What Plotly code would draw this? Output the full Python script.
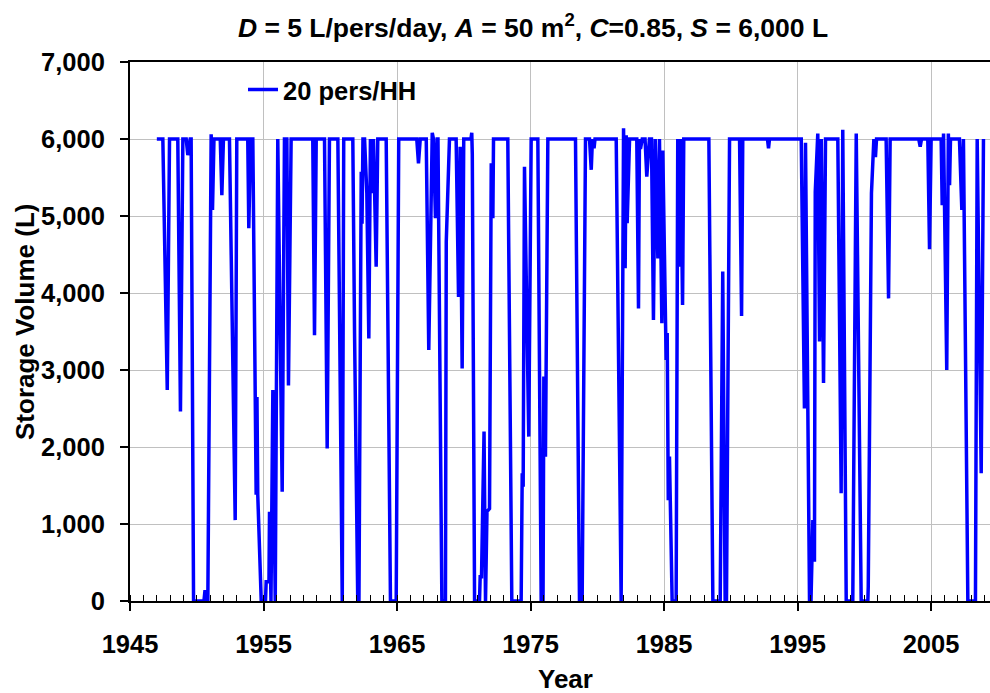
import plotly.graph_objects as go

# Storage volume time series (year, litres)
years = [
    1947.01, 1947.46, 1947.79, 1947.96, 1948.58, 1948.78, 1948.96, 1949.21, 1949.33, 1949.51,
    1949.58, 1949.76, 1950.54, 1950.62, 1950.69, 1950.83, 1951.08, 1951.18, 1951.29, 1951.76,
    1951.88, 1952.00, 1952.45, 1952.88, 1953.00, 1953.82, 1953.90, 1954.03, 1954.20, 1954.45,
    1954.51, 1954.57, 1954.83, 1955.15, 1955.20, 1955.41, 1955.45, 1955.56, 1955.70, 1955.88,
    1956.07, 1956.40, 1956.57, 1956.75, 1956.87, 1957.07, 1958.69, 1958.82, 1958.95, 1959.57,
    1959.77, 1959.94, 1960.57, 1960.84, 1960.90, 1961.01, 1961.69, 1961.82, 1962.06, 1962.15,
    1962.32, 1962.38, 1962.45, 1962.57, 1962.74, 1962.89, 1963.01, 1963.14, 1963.24, 1963.44,
    1963.56, 1964.19, 1964.51, 1964.94, 1965.13, 1966.48, 1966.61, 1966.74, 1967.19, 1967.38,
    1967.64, 1967.73, 1967.88, 1968.01, 1968.07, 1968.36, 1968.63, 1968.69, 1968.93, 1969.43,
    1969.61, 1969.73, 1969.88, 1970.00, 1970.54, 1970.60, 1970.64, 1970.81, 1971.18, 1971.23,
    1971.33, 1971.52, 1971.63, 1971.74, 1971.93, 1972.06, 1972.18, 1972.23, 1973.30, 1973.60,
    1974.30, 1974.38, 1974.45, 1974.55, 1974.87, 1975.05, 1975.55, 1975.80, 1975.94, 1976.00,
    1976.12, 1976.30, 1978.37, 1978.67, 1978.87, 1979.12, 1979.42, 1979.55, 1979.64, 1979.76,
    1979.83, 1981.42, 1981.79, 1981.97, 1982.09, 1982.17, 1982.24, 1982.42, 1982.96, 1983.09,
    1983.16, 1983.24, 1983.37, 1983.58, 1983.71, 1983.91, 1984.06, 1984.21, 1984.34, 1984.54,
    1984.66, 1984.84, 1984.91, 1985.16, 1985.24, 1985.32, 1985.41, 1985.61, 1985.91, 1986.03,
    1986.16, 1986.24, 1986.39, 1986.48, 1988.36, 1988.66, 1989.21, 1989.40, 1989.58, 1989.68,
    1989.91, 1990.66, 1990.81, 1990.90, 1992.75, 1992.83, 1992.90, 1995.28, 1995.52, 1995.60,
    1995.90, 1996.01, 1996.15, 1996.27, 1996.33, 1996.52, 1996.65, 1996.78, 1996.95, 1997.10,
    1998.02, 1998.27, 1998.39, 1998.65, 1999.14, 1999.40, 1999.77, 2000.27, 2000.30, 2000.54,
    2000.72, 2000.84, 2000.92, 2001.64, 2001.82, 2001.94, 2004.08, 2004.19, 2004.29, 2004.76,
    2004.89, 2005.01, 2005.76, 2005.84, 2005.94, 2006.18, 2006.30, 2006.39, 2006.46, 2007.13,
    2007.31, 2007.43, 2007.76, 2008.33, 2008.46, 2008.76, 2008.93,
]

storage_l = [
    6000, 6000, 2740, 6000, 6000, 2460, 6000, 6000, 5790, 6000,
    6000, 0, 0, 140, 0, 0, 6060, 5080, 6000, 6000,
    5270, 6000, 6000, 1050, 6000, 6000, 4840, 6000, 6000, 1380,
    2650, 1380, 0, 0, 250, 250, 1160, 0, 2740, 0,
    6000, 1420, 6000, 6000, 2800, 6000, 6000, 3450, 6000, 6000,
    1980, 6000, 6000, 0, 0, 6000, 6000, 3480, 0, 0,
    5575, 4900, 6000, 6000, 5295, 3410, 6000, 5295, 6000, 4340,
    6000, 6000, 0, 0, 6000, 6000, 5685, 6000, 6000, 3260,
    6080, 6000, 4970, 6000, 6000, 0, 0, 4666, 6000, 6000,
    3950, 5900, 3020, 6000, 6000, 6080, 5800, 0, 0, 315,
    315, 2200, 0, 1160, 1200, 5685, 4970, 6000, 6000, 0,
    0, 1660, 1485, 5640, 2135, 6000, 6000, 0, 0, 2915,
    1875, 6000, 6000, 0, 0, 6000, 6000, 5600, 6000, 5880,
    6000, 6000, 0, 6140, 4320, 6050, 4905, 6000, 6000, 3800,
    6000, 5870, 6000, 6000, 5510, 6000, 6000, 3650, 6000, 4450,
    6000, 3607, 5850, 3130, 3480, 1310, 1875, 0, 0, 6000,
    4340, 6000, 3845, 6000, 6000, 0, 0, 4280, 0, 0,
    6000, 6000, 3700, 6000, 6000, 5880, 6000, 6000, 2500, 5950,
    0, 0, 1050, 510, 5315, 6070, 3370, 6000, 2830, 6000,
    6000, 1400, 6120, 0, 0, 6070, 0, 0, 185, 5295,
    6000, 5765, 6000, 6000, 3930, 6000, 6000, 5900, 6000, 6000,
    4570, 6000, 6000, 5140, 6070, 3000, 6070, 5400, 6000, 6000,
    5080, 6000, 0, 0, 6000, 1660, 6000,
]

series_name = "20 pers/HH"
x_ticks = [1945, 1955, 1965, 1975, 1985, 1995, 2005]
y_ticks = [0, 1000, 2000, 3000, 4000, 5000, 6000, 7000]
y_ticktext = [f"{v:,}" for v in y_ticks]

FONT = "Arial, 'Liberation Sans', sans-serif"

fig = go.Figure()
fig.add_trace(go.Scatter(
    x=years, y=storage_l, mode="lines", name=series_name,
    line=dict(color="#0000FF", width=3.5),
))

L, R, T, B = 130, 0, 62, 92
W, H = 990, 693
pw, ph = W - L - R, H - T - B

fig.update_layout(
    width=W, height=H,
    margin=dict(l=L, r=R, t=T, b=B, pad=0),
    paper_bgcolor="white", plot_bgcolor="white",
    font=dict(family=FONT, size=25, color="black"),
    showlegend=True,
    legend=dict(
        x=(243 - L) / pw, y=(601 - 90) / ph, xanchor="left", yanchor="middle",
        bgcolor="rgba(0,0,0,0)", borderwidth=0,
        font=dict(family=FONT, size=25.5, color="black", weight="bold"),
    ),
    title=dict(
        text="<i>D</i> = 5 L/pers/day, <i>A</i> = 50 m<sup>2</sup>, <i>C</i>=0.85, <i>S</i> = 6,000 L",
        xref="container", yref="container",
        x=533 / W, y=1 - 28 / H, xanchor="center", yanchor="middle",
        font=dict(family=FONT, size=26.5, color="black", weight="bold"),
    ),
)

fig.update_xaxes(
    range=[1945, 1945 + pw / 13.35],
    tickmode="array", tickvals=x_ticks, ticktext=[str(t) for t in x_ticks],
    ticks="outside", ticklen=8, tickwidth=1.5, tickcolor="black",
    ticklabelstandoff=11,
    tickfont=dict(family=FONT, size=25.5, color="black", weight="bold"),
    showgrid=True, gridcolor="#C0C0C0", gridwidth=1,
    showline=True, linecolor="black", linewidth=2, mirror=True,
    zeroline=False,
    minor=dict(ticks="inside", ticklen=6, tickwidth=1, tickcolor="black",
               dtick=1, tick0=1945, showgrid=False),
)
fig.update_yaxes(
    range=[0, 7000],
    tickmode="array", tickvals=y_ticks, ticktext=y_ticktext,
    ticks="outside", ticklen=8, tickwidth=1.5, tickcolor="black",
    ticklabelstandoff=10,
    tickfont=dict(family=FONT, size=25.5, color="black", weight="bold"),
    showgrid=True, gridcolor="#C0C0C0", gridwidth=1,
    showline=True, linecolor="black", linewidth=2, mirror=False,
    zeroline=False,
)

fig.add_annotation(
    text="<b>Storage Volume (L)</b>", textangle=-90,
    xref="paper", yref="paper",
    x=(25 - L) / pw, y=(601 - 322) / ph, xanchor="center", yanchor="middle",
    showarrow=False, font=dict(family=FONT, size=26, color="black"),
)
fig.add_annotation(
    text="<b>Year</b>",
    xref="paper", yref="paper",
    x=(565 - L) / pw, y=(601 - 679) / ph, xanchor="center", yanchor="middle",
    showarrow=False, font=dict(family=FONT, size=26, color="black"),
)

fig.write_html("out.html")
